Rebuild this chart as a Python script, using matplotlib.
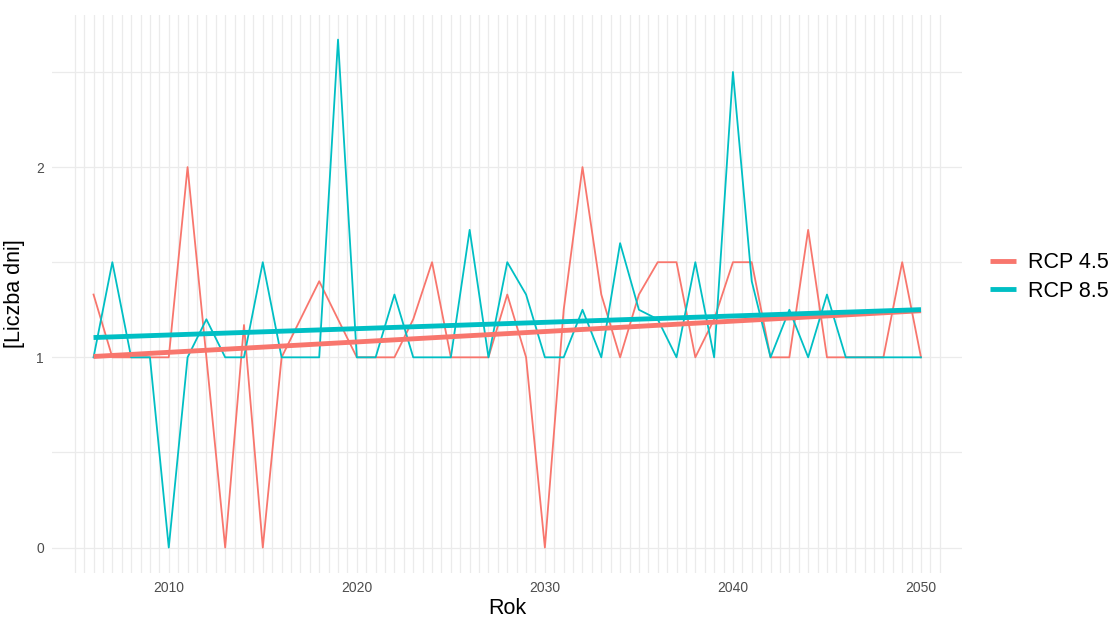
import numpy as np
import matplotlib.pyplot as plt

plt.rcParams['font.family'] = ['Liberation Sans', 'DejaVu Sans']

# Dane: liczba dni w latach 2006-2050
lata = list(range(2006, 2051))

rcp45 = [1.33, 1.0, 1.0, 1.0, 1.0, 2.0, 1.0, 0.0, 1.17, 0.0,
         1.0, 1.2, 1.4, 1.2, 1.0, 1.0, 1.0, 1.2, 1.5, 1.0,
         1.0, 1.0, 1.33, 1.0, 0.0, 1.25, 2.0, 1.33, 1.0, 1.33,
         1.5, 1.5, 1.0, 1.2, 1.5, 1.5, 1.0, 1.0, 1.67, 1.0,
         1.0, 1.0, 1.0, 1.5, 1.0]

rcp85 = [1.0, 1.5, 1.0, 1.0, 0.0, 1.0, 1.2, 1.0, 1.0, 1.5,
         1.0, 1.0, 1.0, 2.67, 1.0, 1.0, 1.33, 1.0, 1.0, 1.0,
         1.67, 1.0, 1.5, 1.33, 1.0, 1.0, 1.25, 1.0, 1.6, 1.25,
         1.2, 1.0, 1.5, 1.0, 2.5, 1.4, 1.0, 1.25, 1.0, 1.33,
         1.0, 1.0, 1.0, 1.0, 1.0]

serie = {'RCP 4.5': rcp45, 'RCP 8.5': rcp85}
kolory = {'RCP 4.5': '#F8766D', 'RCP 8.5': '#00BFC4'}

fig = plt.figure(figsize=(11.1, 6.2), dpi=100)
ax = fig.add_axes([0.047, 0.076, 0.82, 0.9])

x = np.array(lata)

# Linie danych
for nazwa, y in serie.items():
    ax.plot(x, y, color=kolory[nazwa], lw=1.3, zorder=3)

# Linie trendu (regresja liniowa)
for nazwa, y in serie.items():
    a, b = np.polyfit(x, y, 1)
    ax.plot(x, a * x + b, color=kolory[nazwa], lw=3.5, zorder=4,
            solid_capstyle='butt', label=nazwa)

# Siatka
for xv in np.arange(2005, 2051.01, 0.5):
    ax.axvline(xv, color='#EBEBEB', lw=0.9, zorder=1)
for yv in [0, 0.5, 1, 1.5, 2, 2.5]:
    ax.axhline(yv, color='#EBEBEB', lw=0.9, zorder=1)

ax.set_xlim(2003.8, 2052.2)
ax.set_ylim(-0.133, 2.8)
ax.set_xticks([2010, 2020, 2030, 2040, 2050])
ax.set_yticks([0, 1, 2])
ax.tick_params(length=0, labelsize=10, labelcolor='#4D4D4D', pad=6)
for s in ax.spines.values():
    s.set_visible(False)

ax.set_xlabel('Rok', fontsize=15.5, labelpad=2)
ax.set_ylabel('[Liczba dni]', fontsize=15.5, labelpad=8)

ax.legend(loc='center left', bbox_to_anchor=(1.03, 0.53), frameon=False,
          fontsize=15.5, handlelength=1.2, handletextpad=0.6,
          labelspacing=0.35, borderaxespad=0, borderpad=0)

fig.savefig('out.png', dpi=100)
